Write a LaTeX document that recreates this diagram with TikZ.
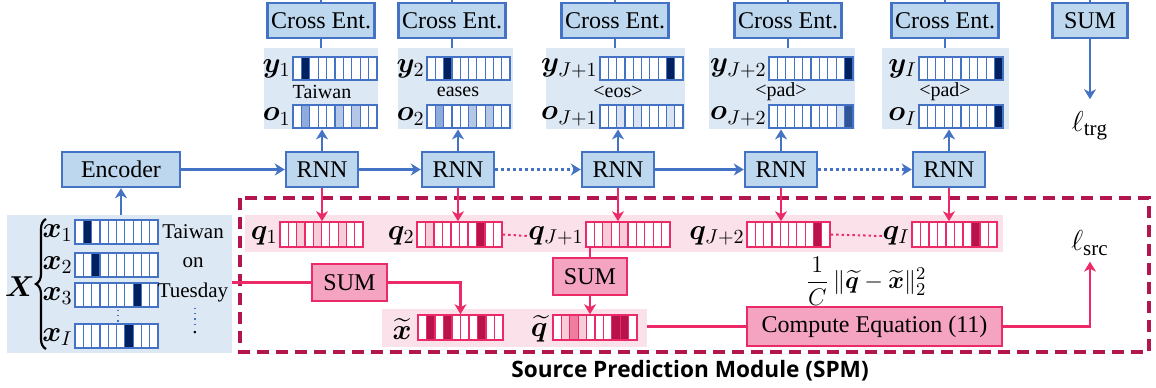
\documentclass[tikz,border=0pt]{standalone}
\usepackage{amsmath,amssymb}
\usepackage{bm}
\usepackage{fontspec}
\setmainfont{Liberation Serif}
\newfontfamily\spmfont{Open Sans}
\usetikzlibrary{arrows.meta,fit,calc,decorations.pathreplacing}
\definecolor{cBlueFill}{HTML}{BDD7EE}
\definecolor{cBlueLine}{HTML}{4472C4}
\definecolor{cPanel}{HTML}{DDE8F5}
\definecolor{cNavy}{HTML}{002060}
\definecolor{cMid}{HTML}{8FAADC}
\definecolor{cLight}{HTML}{B4C7E7}
\definecolor{cVL}{HTML}{DAE3F3}
\definecolor{cMD}{HTML}{2F5597}
\definecolor{cPinkFill}{HTML}{F4A3C0}
\definecolor{cPinkLine}{HTML}{EC2A68}
\definecolor{cStrip}{HTML}{FBE2EA}
\definecolor{cPDark}{HTML}{B8124D}
\definecolor{cPLight}{HTML}{F9CCDA}
\definecolor{cPMid}{HTML}{F07CA0}
\definecolor{cDash}{HTML}{B3154F}
\tikzset{
  bbox/.style={draw=cBlueLine, fill=cBlueFill, line width=1.2pt, inner sep=0, font=\fontsize{12}{14}\selectfont},
  pbox/.style={draw=cPinkLine, fill=cPinkFill, line width=1.2pt, inner sep=0, font=\fontsize{12}{14}\selectfont},
  bluevec/.style={draw=cBlueLine, line width=0.8pt, inner sep=0},
  bluecell/.style={draw=cBlueLine, line width=0.6pt},
  pinkvec/.style={draw=cPinkLine, line width=0.8pt, inner sep=0},
  pinkcell/.style={draw=cPinkLine, line width=0.6pt},
  panelbox/.style={fill=cPanel, inner sep=0},
  stripbox/.style={fill=cStrip, inner sep=0},
  bline/.style={draw=cBlueLine, line width=1.2pt},
  pline/.style={draw=cPinkLine, line width=1.2pt},
  barrow/.style={bline, -{Stealth[length=5pt,width=6pt,inset=1.5pt]}},
  parrow/.style={pline, -{Stealth[length=5pt,width=6pt,inset=1.5pt]}},
  bdots/.style={dash pattern=on 1.5pt off 1.5pt},
  mlab/.style={font=\fontsize{14.5}{16}\selectfont, inner sep=0, anchor=east},
  word/.style={font=\fontsize{10}{12}\selectfont, inner sep=0},
}
\newcommand\cellvec[7]{%
  \fill[white] (#2,#3) rectangle ({#2+10*#4},{#3+#5});
  \foreach \i/\c in {#7}{\fill[\c] ({#2+(\i-1)*#4},#3) rectangle ({#2+\i*#4},{#3+#5});}
  \foreach \i in {1,...,9}{\draw[#6cell] ({#2+\i*#4},#3) -- ({#2+\i*#4},{#3+#5});}
  \node[#6vec, fit={(#2,#3) ({#2+10*#4},{#3+#5})}] (#1) {};
}
\begin{document}
\begin{tikzpicture}[x=0.5pt,y=-0.5pt]
\useasboundingbox (0,0) rectangle (1156,387);
\coordinate (top) at (0,0);
% panels
\node[panelbox, fit={(264,48) (378,129)}] (p1) {};
\node[panelbox, fit={(398,48) (513,129)}] (p2) {};
\node[panelbox, fit={(546,48) (685,129)}] (p3) {};
\node[panelbox, fit={(709,48) (855,129)}] (p4) {};
\node[panelbox, fit={(882,48) (1009,129)}] (p5) {};
\node[panelbox, fit={(7,215) (232,353)}] (xpanel) {};
\node[stripbox, fit={(245,215) (1003,252)}] (qstrip) {};
\node[stripbox, fit={(382,309) (647,347)}] (lstrip) {};
% dashed SPM box
\draw[cDash, line width=1.6pt, dash pattern=on 6pt off 3.5pt] (240,198) rectangle (1149,352);
% top boxes
\node[bbox, minimum width=53.5pt, minimum height=17.5pt] (ce1) at (321,20.5) {Cross Ent.};
\node[bbox, minimum width=53.5pt, minimum height=17.5pt] (ce2) at (452,20.5) {Cross Ent.};
\node[bbox, minimum width=53.5pt, minimum height=17.5pt] (ce3) at (615,20.5) {Cross Ent.};
\node[bbox, minimum width=53.5pt, minimum height=17.5pt] (ce4) at (788,20.5) {Cross Ent.};
\node[bbox, minimum width=53.5pt, minimum height=17.5pt] (ce5) at (945,20.5) {Cross Ent.};
\node[bbox, minimum width=37.5pt, minimum height=17.5pt] (sumT) at (1090,20.5) {SUM};
% RNNs
\node[bbox, minimum width=59pt, minimum height=17.5pt] (enc) at (121,169.5) {Encoder};
\node[bbox, minimum width=36pt, minimum height=17.5pt] (rnn1) at (322,169.5) {RNN};
\node[bbox, minimum width=36pt, minimum height=17.5pt] (rnn2) at (458,169.5) {RNN};
\node[bbox, minimum width=36pt, minimum height=17.5pt] (rnn3) at (618,169.5) {RNN};
\node[bbox, minimum width=36pt, minimum height=17.5pt] (rnn4) at (781,169.5) {RNN};
\node[bbox, minimum width=36pt, minimum height=17.5pt] (rnn5) at (949,169.5) {RNN};
% output vectors
\cellvec{y1}{293}{57}{8.4}{23}{blue}{2/cNavy}
\cellvec{o1}{293}{105}{8.4}{23}{blue}{2/cMid,6/cLight,8/cLight}
\cellvec{y2}{427}{57}{8.3}{23}{blue}{3/cNavy}
\cellvec{o2}{427}{105}{8.3}{23}{blue}{2/cMid,6/cLight,8/cLight}
\cellvec{yJ1}{600}{57}{8.3}{23}{blue}{9/cNavy}
\cellvec{oJ1}{600}{105}{8.3}{23}{blue}{3/cVL,5/cVL,9/cVL}
\cellvec{yJ2}{769}{57}{8.4}{23}{blue}{10/cNavy}
\cellvec{oJ2}{769}{105}{8.4}{23}{blue}{9/cVL,10/cMD}
\cellvec{yI}{919}{57}{8.4}{23}{blue}{10/cNavy}
\cellvec{oI}{919}{105}{8.4}{23}{blue}{10/cNavy}
\node[mlab] (ly1) at (291,68.5) {$\bm{y}_1$};
\node[mlab] (lo1) at (291,116.5) {$\bm{o}_1$};
\node[mlab] (ly2) at (425,68.5) {$\bm{y}_2$};
\node[mlab] (lo2) at (425,116.5) {$\bm{o}_2$};
\node[mlab] (lyJ1) at (598,68.5) {$\bm{y}_{J+1}$};
\node[mlab] (loJ1) at (598,116.5) {$\bm{o}_{J+1}$};
\node[mlab] (lyJ2) at (767,68.5) {$\bm{y}_{J+2}$};
\node[mlab] (loJ2) at (767,116.5) {$\bm{o}_{J+2}$};
\node[mlab] (lyI) at (917,68.5) {$\bm{y}_I$};
\node[mlab] (loI) at (917,116.5) {$\bm{o}_I$};
\node[word] (w1) at (322,92) {Taiwan};
\node[word] (w2) at (458,92) {eases};
\node[word] (w3) at (618,92) {<eos>};
\node[word] (w4) at (781,92) {<pad>};
\node[word] (w5) at (945,92) {<pad>};
% input vectors
\cellvec{x1}{75}{220}{8.3}{24}{blue}{2/cNavy}
\cellvec{x2}{75}{253}{8.3}{24}{blue}{3/cNavy}
\cellvec{x3}{75}{283}{8.3}{24}{blue}{8/cNavy}
\cellvec{xI}{75}{324}{8.3}{24}{blue}{7/cNavy}
\node[mlab] (lx1) at (73,233) {$\bm{x}_1$};
\node[mlab] (lx2) at (73,265) {$\bm{x}_2$};
\node[mlab] (lx3) at (73,296) {$\bm{x}_3$};
\node[mlab] (lxI) at (73,337) {$\bm{x}_I$};
\node[word, font=\fontsize{10.5}{12}\selectfont] (t1) at (193,232) {Taiwan};
\node[word, font=\fontsize{10.5}{12}\selectfont] (t2) at (193,263) {on};
\node[word, font=\fontsize{10.5}{12}\selectfont] (t3) at (193,292) {Tuesday};
\node[word, font=\fontsize{10.5}{12}\selectfont] (t4) at (195,333) {.};
\draw[bluecell, dotted] (118,310) -- (118,322);
\draw[bluecell, dotted] (195,308) -- (195,327);
\draw[decorate, decoration={brace, amplitude=5pt}, line width=1.1pt] (46,349) -- (46,219);
\node[font=\fontsize{15}{17}\selectfont, inner sep=0] (lX) at (20,287) {$\bm{X}$};
% q vectors
\cellvec{q1}{280}{222}{8.3}{25}{pink}{3/cPLight,5/cPLight,8/cPLight}
\cellvec{q2}{417}{222}{8.5}{25}{pink}{2/cPLight,8/cPDark}
\cellvec{qJ1}{586}{222}{8.4}{25}{pink}{3/cPLight,5/cPLight}
\cellvec{qJ2}{747}{222}{8.3}{25}{pink}{9/cPDark}
\cellvec{qI}{912}{222}{8.5}{25}{pink}{8/cPDark}
\node[mlab] (lq1) at (278,236) {$\bm{q}_1$};
\node[mlab] (lq2) at (415,236) {$\bm{q}_2$};
\node[mlab] (lqJ1) at (584,236) {$\bm{q}_{J+1}$};
\node[mlab] (lqJ2) at (745,236) {$\bm{q}_{J+2}$};
\node[mlab] (lqI) at (910,236) {$\bm{q}_I$};
\draw[pline, line width=1pt, dash pattern=on 1.2pt off 1.5pt] (q2.east) -- (lqJ1.west);
\draw[pline, line width=1pt, dash pattern=on 1.2pt off 1.5pt] (qJ2.east) -- (lqI.west);
% lower strip
\cellvec{xt}{418}{315}{8.5}{25}{pink}{2/cPDark,4/cPDark,8/cPDark}
\cellvec{qt}{553}{315}{8.4}{25}{pink}{2/cPLight,3/cPMid,4/cPLight,8/cPDark,9/cPDark}
\node[mlab] (lxt) at (412,329) {$\widetilde{\bm{x}}$};
\node[mlab] (lqt) at (548,329) {$\widetilde{\bm{q}}$};
% pink boxes
\node[pbox, minimum width=37.5pt, minimum height=18.5pt] (sumL) at (349.5,282.5) {SUM};
\node[pbox, minimum width=37pt, minimum height=18.5pt] (sumM) at (590,276.5) {SUM};
\node[pbox, minimum width=127.5pt, minimum height=19.5pt] (comp) at (874.5,326.5) {Compute Equation (11)};
\node[font=\fontsize{12.5}{14}\selectfont, inner sep=0] (eq) at (866,281) {$\dfrac{1}{C}\,\|\widetilde{\bm{q}}-\widetilde{\bm{x}}\|_2^2$};
\node[font=\fontsize{15}{17}\selectfont, inner sep=0] (ltrg) at (1090,126) {$\ell_{\mathrm{trg}}$};
\node[font=\fontsize{15}{17}\selectfont, inner sep=0] (lsrc) at (1090,243) {$\ell_{\mathrm{src}}$};
\node[font=\spmfont\bfseries\fontsize{11.3}{13}\selectfont, inner sep=0] (spm) at (690,371) {Source Prediction Module (SPM)};
% blue connectors
\foreach \k in {1,...,5}{
  \draw[bline] (ce\k.north) -- (ce\k.north |- top);
  \draw[bline] (ce\k.south) -- (ce\k |- p\k.north);
  \draw[barrow] (rnn\k.north) -- (rnn\k |- p\k.south);
}
\draw[bline] (sumT.north) -- (sumT.north |- top);
\draw[barrow, shorten >=6pt] (sumT.south) -- (ltrg.north);
\draw[barrow] (enc |- xpanel.north) -- (enc.south);
\draw[barrow] (enc.east) -- (rnn1.west);
\draw[barrow] (rnn1.east) -- (rnn2.west);
\draw[barrow, bdots] (rnn2.east) -- (rnn3.west);
\draw[barrow] (rnn3.east) -- (rnn4.west);
\draw[barrow, bdots] (rnn4.east) -- (rnn5.west);
% pink connectors
\draw[parrow] (rnn1.south) -- (rnn1 |- q1.north);
\draw[parrow] (rnn2.south) -- (rnn2 |- q2.north);
\draw[parrow] (rnn3.south) -- (rnn3 |- qJ1.north);
\draw[parrow] (rnn4.south) -- (rnn4 |- qJ2.north);
\draw[parrow] (rnn5.south) -- (rnn5 |- qI.north);
\draw[pline] (xpanel.east |- sumL) -- (sumL.west);
\draw[parrow] (sumL.east) -| (xt.north);
\draw[pline] (sumM |- qJ1.south) -- (sumM.north);
\draw[parrow] (sumM.south) -- (sumM |- qt.north);
\draw[pline] (lstrip.east |- comp) -- (comp.west);
\draw[parrow, shorten >=3pt] (comp.east) -| (lsrc.south);
\end{tikzpicture}
\end{document}
